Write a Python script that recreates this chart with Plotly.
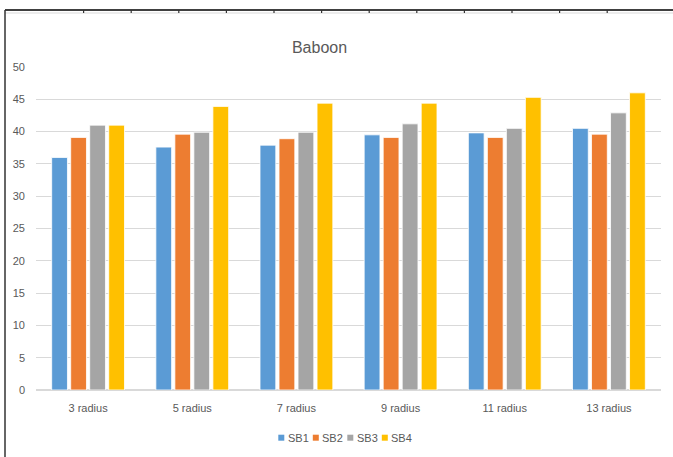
import plotly.graph_objects as go

categories = ["3 radius", "5 radius", "7 radius", "9 radius", "11 radius", "13 radius"]
sb1 = [36.0, 37.6, 37.9, 39.5, 39.8, 40.5]
sb2 = [39.1, 39.6, 38.9, 39.1, 39.1, 39.6]
sb3 = [41.0, 39.9, 39.9, 41.2, 40.5, 42.9]
sb4 = [41.0, 43.9, 44.4, 44.4, 45.3, 46.0]
series_names = ["SB1", "SB2", "SB3", "SB4"]
colors = ["#5B9BD5", "#ED7D31", "#A5A5A5", "#FFC000"]
y_ticks = [0, 5, 10, 15, 20, 25, 30, 35, 40, 45, 50]

FONT = "Liberation Sans, Arial, sans-serif"
W, H = 673, 457
L, R, T, B = 36, 12, 67, 67
pw, ph = W - L - R, H - T - B

def px_x(px):
    return (px - L) / pw

def px_y(py):
    return (H - B - py) / ph

fig = go.Figure()
for name, vals, col in zip(series_names, [sb1, sb2, sb3, sb4], colors):
    fig.add_trace(go.Bar(
        x=categories, y=vals, name=name,
        marker=dict(color=col, line=dict(color="white", width=0.8)),
        showlegend=False,
    ))

fig.update_layout(
    width=W, height=H,
    margin=dict(l=L, r=R, t=T, b=B, autoexpand=False),
    paper_bgcolor="white", plot_bgcolor="white",
    barmode="group", bargap=0.27, bargroupgap=0.17,
    font=dict(family=FONT, size=11, color="#595959"),
    title=dict(text="Baboon", x=px_x(319.5), xref="paper", xanchor="center",
               y=1 - 47 / H, yanchor="middle",
               font=dict(family=FONT, size=16, color="#595959")),
    showlegend=False,
    xaxis=dict(showgrid=False, showline=True, linecolor="#D9D9D9", linewidth=1,
               ticks="", ticklabelstandoff=8,
               tickfont=dict(family=FONT, size=11, color="#595959")),
    yaxis=dict(range=[0, 50], tickvals=y_ticks, showgrid=True, gridcolor="#D9D9D9",
               gridwidth=1, zeroline=True, zerolinecolor="#D9D9D9", showline=False,
               ticks="", ticklabelstandoff=10,
               tickfont=dict(family=FONT, size=11, color="#595959")),
)

# legend drawn as small squares with labels (Excel-style compact legend)
leg_x0, leg_step, leg_y = 278.3, 34.5, 437.7
for i, (name, col) in enumerate(zip(series_names, colors)):
    sx = leg_x0 + i * leg_step
    fig.add_shape(type="rect", xref="paper", yref="paper",
                  x0=px_x(sx), x1=px_x(sx + 6), y0=px_y(leg_y - 3), y1=px_y(leg_y + 3),
                  fillcolor=col, line=dict(width=0))
    fig.add_annotation(text=name, xref="paper", yref="paper",
                       x=px_x(sx + 7.5), y=px_y(leg_y), xanchor="left", yanchor="middle",
                       showarrow=False, font=dict(family=FONT, size=11, color="#595959"))

# frame lines around the chart image
fig.add_shape(type="line", xref="paper", yref="paper",
              x0=px_x(5), x1=px_x(673), y0=px_y(10), y1=px_y(10),
              line=dict(color="black", width=1.5))
fig.add_shape(type="line", xref="paper", yref="paper",
              x0=px_x(5), x1=px_x(673), y0=px_y(13), y1=px_y(13),
              line=dict(color="#E6E6E6", width=1.5))
fig.add_shape(type="line", xref="paper", yref="paper",
              x0=px_x(5), x1=px_x(5), y0=px_y(10), y1=px_y(457),
              line=dict(color="#333333", width=1.5))
for k in range(1, 14):
    tx = 36 + 47.6 * k - 47.6
    if tx > 40:
        fig.add_shape(type="line", xref="paper", yref="paper",
                      x0=px_x(tx), x1=px_x(tx), y0=px_y(10), y1=px_y(13),
                      line=dict(color="#333333", width=1.2))

fig.write_html("out.html", config={"displayModeBar": False},
               post_script="document.body.style.margin='0px';")
